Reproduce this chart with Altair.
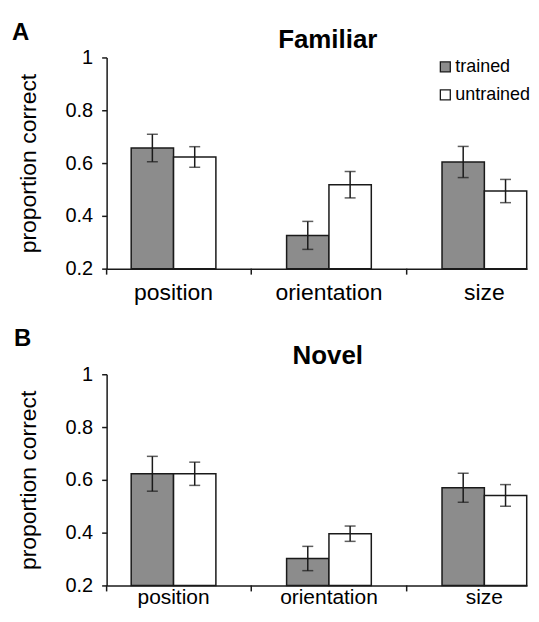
import altair as alt
import pandas as pd

categories = ["position", "orientation", "size"]
groups = ["trained", "untrained"]

familiar_trained = [0.657, 0.326, 0.604]
familiar_trained_err = [0.052, 0.053, 0.059]
familiar_untrained = [0.623, 0.518, 0.494]
familiar_untrained_err = [0.039, 0.050, 0.044]

novel_trained = [0.623, 0.302, 0.570]
novel_trained_err = [0.066, 0.046, 0.055]
novel_untrained = [0.623, 0.396, 0.541]
novel_untrained_err = [0.044, 0.029, 0.041]

panel_letters = ["A", "B"]
panel_titles = ["Familiar", "Novel"]
y_ticks = [0.2, 0.4, 0.6, 0.8, 1.0]
bar_colors = ["#8c8c8c", "#ffffff"]

FONT = "Liberation Sans"
INK = "#1a1a1a"
W, H = 422, 212


def frame(tr, tre, ut, ute):
    rows = []
    for i, c in enumerate(categories):
        rows.append(dict(cat=c, group=groups[0], val=tr[i], err=tre[i]))
        rows.append(dict(cat=c, group=groups[1], val=ut[i], err=ute[i]))
    return pd.DataFrame(rows)


def panel(df, letter, title, show_legend, label_pad, label_size,
          letter_x, letter_y, title_y):
    xscale = alt.Scale(domain=categories, paddingInner=0.455,
                       paddingOuter=0.08, align=0.988)
    xoff = alt.XOffset("group:N", scale=alt.Scale(domain=groups, paddingInner=0,
                                                    paddingOuter=0))
    yscale = alt.Scale(domain=[0.2, 1.0], nice=False, zero=False)
    color_scale = alt.Scale(domain=groups, range=bar_colors)

    if show_legend:
        legend = alt.Legend(
            title=None, orient="none", legendX=331, legendY=0.5,
            symbolType="square", symbolSize=100, symbolStrokeColor=INK,
            symbolStrokeWidth=1.3, labelFont=FONT, labelFontSize=18,
            labelColor="black", labelOffset=1, rowPadding=10, padding=0,
        )
    else:
        legend = None

    xaxis = alt.Axis(title=None, ticks=False, domainColor=INK, domainWidth=1.5,
                     labelFont=FONT, labelFontSize=label_size, labelColor="black",
                     labelAngle=0, labelPadding=label_pad)
    yaxis = alt.Axis(values=y_ticks, format="~g", title="proportion correct",
                     grid=False, domainColor=INK, domainWidth=1.5,
                     tickColor=INK, tickWidth=1.5, tickSize=5,
                     labelFont=FONT, labelFontSize=20, labelColor="black",
                     labelPadding=9, labelFlush=False, labelOverlap=False,
                     titleFont=FONT, titleFontSize=23, titleFontWeight="normal",
                     titleColor="black", titlePadding=25)

    X = alt.X("cat:N", scale=xscale, sort=categories, axis=xaxis)

    base = alt.Chart(df)
    bars = base.mark_bar(stroke=INK, strokeWidth=1.5).encode(
        x=X,
        xOffset=xoff,
        y=alt.Y("val:Q", scale=yscale, axis=yaxis),
        y2=alt.datum(0.2),
        color=alt.Color("group:N", scale=color_scale, legend=legend),
    )
    errs = base.transform_calculate(lo="datum.val - datum.err",
                                    hi="datum.val + datum.err")
    stem = errs.mark_rule(color=INK, strokeWidth=1.5).encode(
        x=X, xOffset=xoff,
        y=alt.Y("lo:Q", scale=yscale, axis=yaxis),
        y2="hi:Q",
    )
    cap_lo = errs.mark_tick(color=INK, thickness=1.5, size=11, orient="horizontal").encode(
        x=X, xOffset=xoff,
        y=alt.Y("lo:Q", scale=yscale, axis=yaxis),
    )
    cap_hi = errs.mark_tick(color=INK, thickness=1.5, size=11, orient="horizontal").encode(
        x=X, xOffset=xoff,
        y=alt.Y("hi:Q", scale=yscale, axis=yaxis),
    )
    # category boundary ticks on the x axis (half the inner gap past each band)
    bticks = alt.Chart(pd.DataFrame({"cat": categories[:-1]})).mark_rule(
        color=INK, strokeWidth=1.5, xOffset=35.5).encode(
        x=alt.X("cat:N", scale=xscale, sort=categories, axis=xaxis, bandPosition=1),
        y=alt.value(H), y2=alt.value(H + 6),
    )
    corner = alt.Chart(pd.DataFrame({"k": [0]})).mark_rule(
        color=INK, strokeWidth=1.5).encode(
        x=alt.value(0), y=alt.value(H), y2=alt.value(H + 6))

    letter_mark = alt.Chart(pd.DataFrame({"t": [letter]})).mark_text(
        font=FONT, fontSize=24, fontWeight="bold", color="black",
        align="left", baseline="alphabetic").encode(
        text="t:N", x=alt.value(letter_x), y=alt.value(letter_y))
    title_mark = alt.Chart(pd.DataFrame({"t": [title]})).mark_text(
        font=FONT, fontSize=26, fontWeight="bold", color="black",
        align="center", baseline="alphabetic").encode(
        text="t:N", x=alt.value(222), y=alt.value(title_y))

    return alt.layer(bars, stem, cap_lo, cap_hi, bticks, corner,
                     letter_mark, title_mark).properties(width=W, height=H)


top = panel(frame(familiar_trained, familiar_trained_err,
                  familiar_untrained, familiar_untrained_err),
            panel_letters[0], panel_titles[0], True, 13, 23, -95, -17.5, -9.2)
bottom = panel(frame(novel_trained, novel_trained_err,
                     novel_untrained, novel_untrained_err),
               panel_letters[1], panel_titles[1], False, 1, 21, -93, -28.4, -10)

chart = alt.vconcat(top, bottom, spacing=22).resolve_scale(
    color="independent"
).properties(
    padding={"left": 4, "top": 11.5, "right": 0, "bottom": 0},
    background="white",
).configure_view(stroke=None)

chart.save("out.html", embed_options={"renderer": "svg", "actions": False})
